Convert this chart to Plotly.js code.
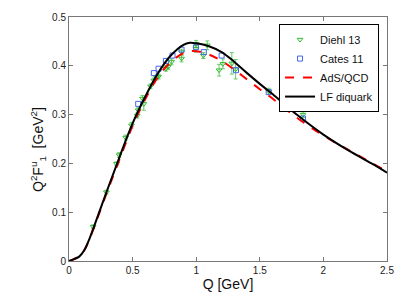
<!DOCTYPE html>
<html>
<head>
<meta charset="utf-8">
<script src="https://cdn.plot.ly/plotly-3.0.1.min.js"></script>
<style>html,body{margin:0;padding:0;background:#fff;}#chart{width:409px;height:300px;}</style>
</head>
<body>
<div id="chart"></div>
<script>
// Diehl 13 data
var diehlQ = [0.19,0.294,0.373,0.394,0.446,0.491,0.536,0.544,0.578,0.588,0.641,0.667,0.688,0.704,0.762,0.78,0.806,0.885,0.885,0.998,0.998,1.056,1.087,1.18,1.21,1.28,1.31,1.57,1.84];
var diehlF = [0.070,0.141,0.199,0.217,0.253,0.278,0.298,0.309,0.333,0.322,0.358,0.370,0.376,0.378,0.394,0.398,0.408,0.415,0.428,0.445,0.435,0.421,0.442,0.391,0.404,0.405,0.393,0.348,0.300];
var diehlErr = [0.004,0.004,0.004,0.005,0.005,0.006,0.005,0.005,0.006,0.013,0.005,0.005,0.005,0.005,0.005,0.005,0.006,0.007,0.006,0.007,0.007,0.006,0.009,0.012,0.010,0.022,0.020,0.006,0.006];
// Cates 11 data
var catesQ = [0.544,0.667,0.704,0.762,0.814,0.885,0.998,1.06,1.2,1.313,1.57,1.84];
var catesF = [0.322,0.385,0.394,0.410,0.421,0.433,0.438,0.428,0.421,0.391,0.346,0.292];
// AdS/QCD curve
var adsQ = [0,0.04,0.08,0.12,0.16,0.2,0.3,0.4,0.5,0.6,0.7,0.8,0.9,0.95,1.0,1.1,1.2,1.3,1.4,1.5,1.6,1.8,2.0,2.2,2.4,2.5];
var adsF = [0,0.004,0.009,0.022,0.044,0.071,0.142,0.210,0.277,0.332,0.377,0.408,0.426,0.430,0.430,0.423,0.410,0.392,0.372,0.352,0.333,0.292,0.257,0.227,0.198,0.184];
// LF diquark curve
var lfQ = [0,0.04,0.08,0.12,0.16,0.2,0.3,0.4,0.5,0.6,0.7,0.8,0.9,0.95,1.0,1.1,1.2,1.3,1.4,1.5,1.6,1.8,2.0,2.2,2.4,2.5];
var lfF = [0,0.004,0.009,0.022,0.045,0.073,0.145,0.215,0.282,0.337,0.385,0.421,0.443,0.447,0.446,0.440,0.428,0.408,0.385,0.363,0.342,0.298,0.259,0.226,0.197,0.181];

var traces = [
  {x: diehlQ, y: diehlF, name: 'Diehl 13', type: 'scatter', mode: 'markers',
   marker: {symbol: 'triangle-down-open', size: 5, color: '#33bb33', line: {width: 1}},
   error_y: {type: 'data', array: diehlErr, visible: true, color: '#66cc66', thickness: 1, width: 2}},
  {x: catesQ, y: catesF, name: 'Cates 11', type: 'scatter', mode: 'markers',
   marker: {symbol: 'square-open', size: 5, color: '#4466ee', line: {width: 1}}},
  {x: adsQ, y: adsF, name: 'AdS/QCD', type: 'scatter', mode: 'lines',
   line: {color: '#ff0000', width: 2, dash: 'dash', shape: 'spline'}},
  {x: lfQ, y: lfF, name: 'LF diquark', type: 'scatter', mode: 'lines',
   line: {color: '#000000', width: 2, shape: 'spline'}}
];

var axisBase = {
  showgrid: false, zeroline: false, showline: true, linecolor: '#777', linewidth: 1,
  mirror: 'ticks', ticks: 'inside', ticklen: 4, tickcolor: '#777',
  tickfont: {family: 'Liberation Sans, Arial, sans-serif', size: 10, color: '#222'}
};

var layout = {
  width: 409, height: 300,
  margin: {l: 69, r: 22, t: 17, b: 39},
  paper_bgcolor: '#fff', plot_bgcolor: '#fff',
  font: {family: 'Liberation Sans, Arial, sans-serif', color: '#222'},
  showlegend: true,
  legend: {x: 0.975, xanchor: 'right', y: 0.971, yanchor: 'top',
    bordercolor: '#000', borderwidth: 1, bgcolor: '#fff',
    font: {size: 11, color: '#111'}, tracegroupgap: 0},
  xaxis: Object.assign({}, axisBase, {range: [0, 2.5], tickvals: [0,0.5,1,1.5,2,2.5],
    ticktext: ['0','0.5','1','1.5','2','2.5'],
    title: {text: 'Q [GeV]', font: {size: 14, color: '#111'}, standoff: 4}}),
  yaxis: Object.assign({}, axisBase, {range: [0, 0.5], tickvals: [0,0.1,0.2,0.3,0.4,0.5],
    ticktext: ['0','0.1','0.2','0.3','0.4','0.5']}),
  annotations: [{
    text: 'Q<sup>2</sup>F<sup>u</sup><sub>1</sub>  [GeV<sup>2</sup>]',
    xref: 'paper', yref: 'paper', x: 0, y: 0.455, xanchor: 'center', yanchor: 'middle',
    xshift: -31, textangle: -90, showarrow: false,
    font: {size: 14, color: '#111'}
  }]
};

Plotly.newPlot('chart', traces, layout, {displayModeBar: false, staticPlot: true});
</script>
</body>
</html>
